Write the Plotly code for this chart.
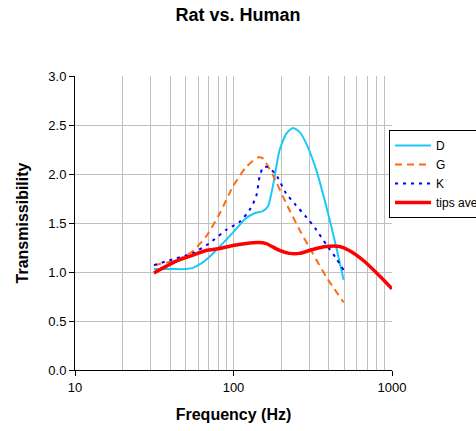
import plotly.graph_objects as go

# transmissibility curves
d_freq = [31.5, 40, 50, 55, 63, 70, 82, 100, 120, 136, 153, 165, 177, 195, 215, 237, 261, 288, 333, 385, 444, 495]
d_val = [1.03, 1.03, 1.03, 1.04, 1.09, 1.15, 1.26, 1.41, 1.55, 1.60, 1.62, 1.67, 1.87, 2.24, 2.41, 2.47, 2.43, 2.31, 2.04, 1.67, 1.26, 0.92]

g_freq = [31.5, 43.5, 55, 67, 82, 99, 120, 143, 153, 177, 215, 261, 316, 385, 495]
g_val = [1.07, 1.12, 1.21, 1.36, 1.60, 1.87, 2.07, 2.17, 2.16, 1.99, 1.70, 1.43, 1.19, 0.95, 0.69]

k_freq = [31.5, 43.5, 55, 70, 90, 109, 126, 139, 146, 154, 165, 186, 215, 248, 288, 333, 385, 444, 495]
k_val = [1.07, 1.14, 1.19, 1.29, 1.43, 1.51, 1.63, 1.77, 1.97, 2.07, 2.07, 1.99, 1.80, 1.68, 1.56, 1.43, 1.28, 1.14, 1.02]

t_freq = [31.5, 43.5, 55, 67, 82, 99, 120, 143, 161, 195, 225, 261, 316, 385, 467, 537, 657, 800, 1000]
t_val = [0.99, 1.11, 1.17, 1.22, 1.24, 1.27, 1.29, 1.30, 1.29, 1.22, 1.19, 1.19, 1.23, 1.26, 1.26, 1.22, 1.12, 0.99, 0.83]

fig = go.Figure()
fig.add_trace(go.Scatter(x=d_freq, y=d_val, name="D", mode="lines",
                         line=dict(color="#1ec8f5", width=2, shape="spline", smoothing=0.6)))
fig.add_trace(go.Scatter(x=g_freq, y=g_val, name="G", mode="lines",
                         line=dict(color="#ff6a13", width=2, dash="7px,5px", shape="spline", smoothing=0.6)))
fig.add_trace(go.Scatter(x=k_freq, y=k_val, name="K", mode="lines",
                         line=dict(color="#0000ff", width=2, dash="3px,5px", shape="spline", smoothing=0.6)))
fig.add_trace(go.Scatter(x=t_freq, y=t_val, name="tips average", mode="lines",
                         line=dict(color="#ff0000", width=3.5, shape="spline", smoothing=0.6)))

fig.update_layout(
    width=476, height=431,
    margin=dict(l=75, r=84, t=76, b=61, autoexpand=False),
    paper_bgcolor="white", plot_bgcolor="white",
    font=dict(family="Liberation Sans, Arial", size=13, color="black"),
    title=dict(text="<b>Rat vs. Human</b>", x=0.5, xref="container", xanchor="center",
               y=0.965, yanchor="middle", font=dict(size=18)),
    legend=dict(xref="container", yref="container", x=389/476, y=1 - 130/431,
                xanchor="left", yanchor="top", bordercolor="black", borderwidth=1,
                bgcolor="white", font=dict(size=12), tracegroupgap=0, itemwidth=36),
)
fig.update_xaxes(
    type="log", range=[1, 3], dtick=1, tickformat="d", automargin=False,
    showline=True, linecolor="black", linewidth=1,
    ticks="outside", ticklen=5, tickcolor="black",
    showgrid=True, gridcolor="#c0c0c0", gridwidth=1,
    minor=dict(dtick="D1", showgrid=True, gridcolor="#c0c0c0", ticks=""),
    title=dict(text="<b>Frequency (Hz)</b>", font=dict(size=16)),
    zeroline=False,
)
fig.update_yaxes(
    range=[0, 3], dtick=0.5, tickformat=".1f", automargin=False,
    showline=True, linecolor="black", linewidth=1,
    ticks="outside", ticklen=5, tickcolor="black",
    showgrid=True, gridcolor="#c0c0c0", gridwidth=1,
    title=dict(text="<b>Transmissibility</b>", font=dict(size=16)),
    zeroline=False,
)

# drop the page's default body margin so the chart sits at the window corner
fig.write_html("out.html", config={"displayModeBar": False},
               post_script="document.body.style.margin='0';")
